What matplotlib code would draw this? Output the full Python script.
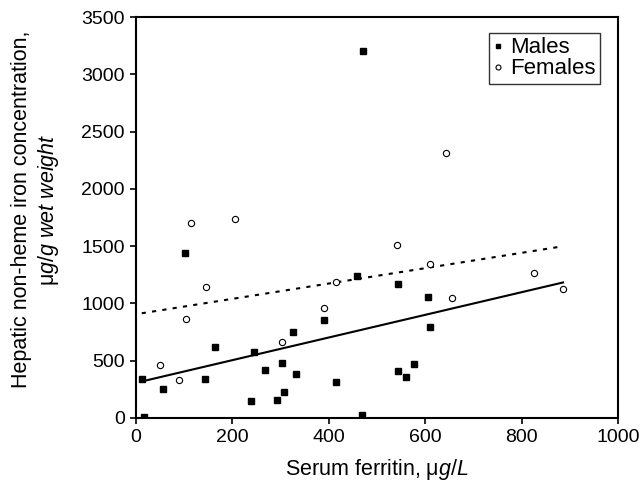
import matplotlib
matplotlib.use("Agg")
import matplotlib.pyplot as plt

plt.rcParams['font.family'] = ['Liberation Sans', 'DejaVu Sans']
plt.rcParams['mathtext.fontset'] = 'custom'
plt.rcParams['mathtext.rm'] = 'Liberation Sans'
plt.rcParams['mathtext.it'] = 'Liberation Sans:italic'

# males: serum ferritin (ug/L) vs hepatic iron (ug/g wet weight)
males_x = [13, 16, 57, 102, 143, 164, 239, 245, 267, 293, 302, 307, 325, 331,
           391, 415, 458, 468, 470, 544, 544, 560, 577, 605, 609]
males_y = [341, 9, 253, 1442, 343, 617, 145, 573, 419, 154, 481, 224, 748, 387,
           859, 311, 1241, 29, 3200, 1168, 413, 358, 475, 1058, 795]

# females
females_x = [50, 89, 103, 114, 146, 205, 302, 391, 416, 542, 609, 643, 655, 826, 886]
females_y = [460, 329, 868, 1698, 1145, 1733, 664, 964, 1189, 1506, 1343, 2310, 1043, 1264, 1122]

# regression line end points
males_fit_x = [13, 886]
males_fit_y = [320, 1183]
females_fit_x = [12, 880]
females_fit_y = [914, 1495]

fig = plt.figure(figsize=(6.42, 4.82), dpi=100)
ax = fig.add_axes([0.2118, 0.1328, 0.7508, 0.8319])

ax.plot(males_fit_x, males_fit_y, color='black', lw=1.5, zorder=2)
ax.plot(females_fit_x, females_fit_y, color='black', lw=1.5,
        linestyle=(0, (2, 3)), zorder=2)

ax.plot(males_x, males_y, linestyle='none', marker='s', ms=4,
        color='black', label='Males', zorder=3)
ax.plot(females_x, females_y, linestyle='none', marker='o', ms=4.5,
        mfc='white', mec='black', mew=0.8, label='Females', zorder=3)

ax.set_xlim(0, 1000)
ax.set_ylim(0, 3500)
ax.set_xticks(range(0, 1001, 200))
ax.set_yticks(range(0, 3501, 500))
ax.tick_params(direction='out', length=4, width=1.2, labelsize=14, pad=4)
for s in ax.spines.values():
    s.set_linewidth(1.5)

ax.set_xlabel('Serum ferritin, ' + r'$\mathrm{\mu}\mathit{g/L}$', fontsize=15.5, labelpad=8)
ax.set_ylabel('Hepatic non-heme iron concentration,\n'
              + r'$\mathrm{\mu}\mathit{g/g\ wet\ weight}$',
              fontsize=15.5, linespacing=1.25)
ax.yaxis.set_label_coords(-0.155, 0.52)

leg = ax.legend(loc='upper right', bbox_to_anchor=(0.963, 0.96), fontsize=16,
                frameon=True, fancybox=False, handlelength=0.4,
                handletextpad=0.35, borderpad=0.2, labelspacing=0.0,
                borderaxespad=0.0, markerscale=0.8)
leg.get_frame().set_edgecolor('black')
leg.get_frame().set_linewidth(1.0)

fig.savefig('out.png', dpi=100)
